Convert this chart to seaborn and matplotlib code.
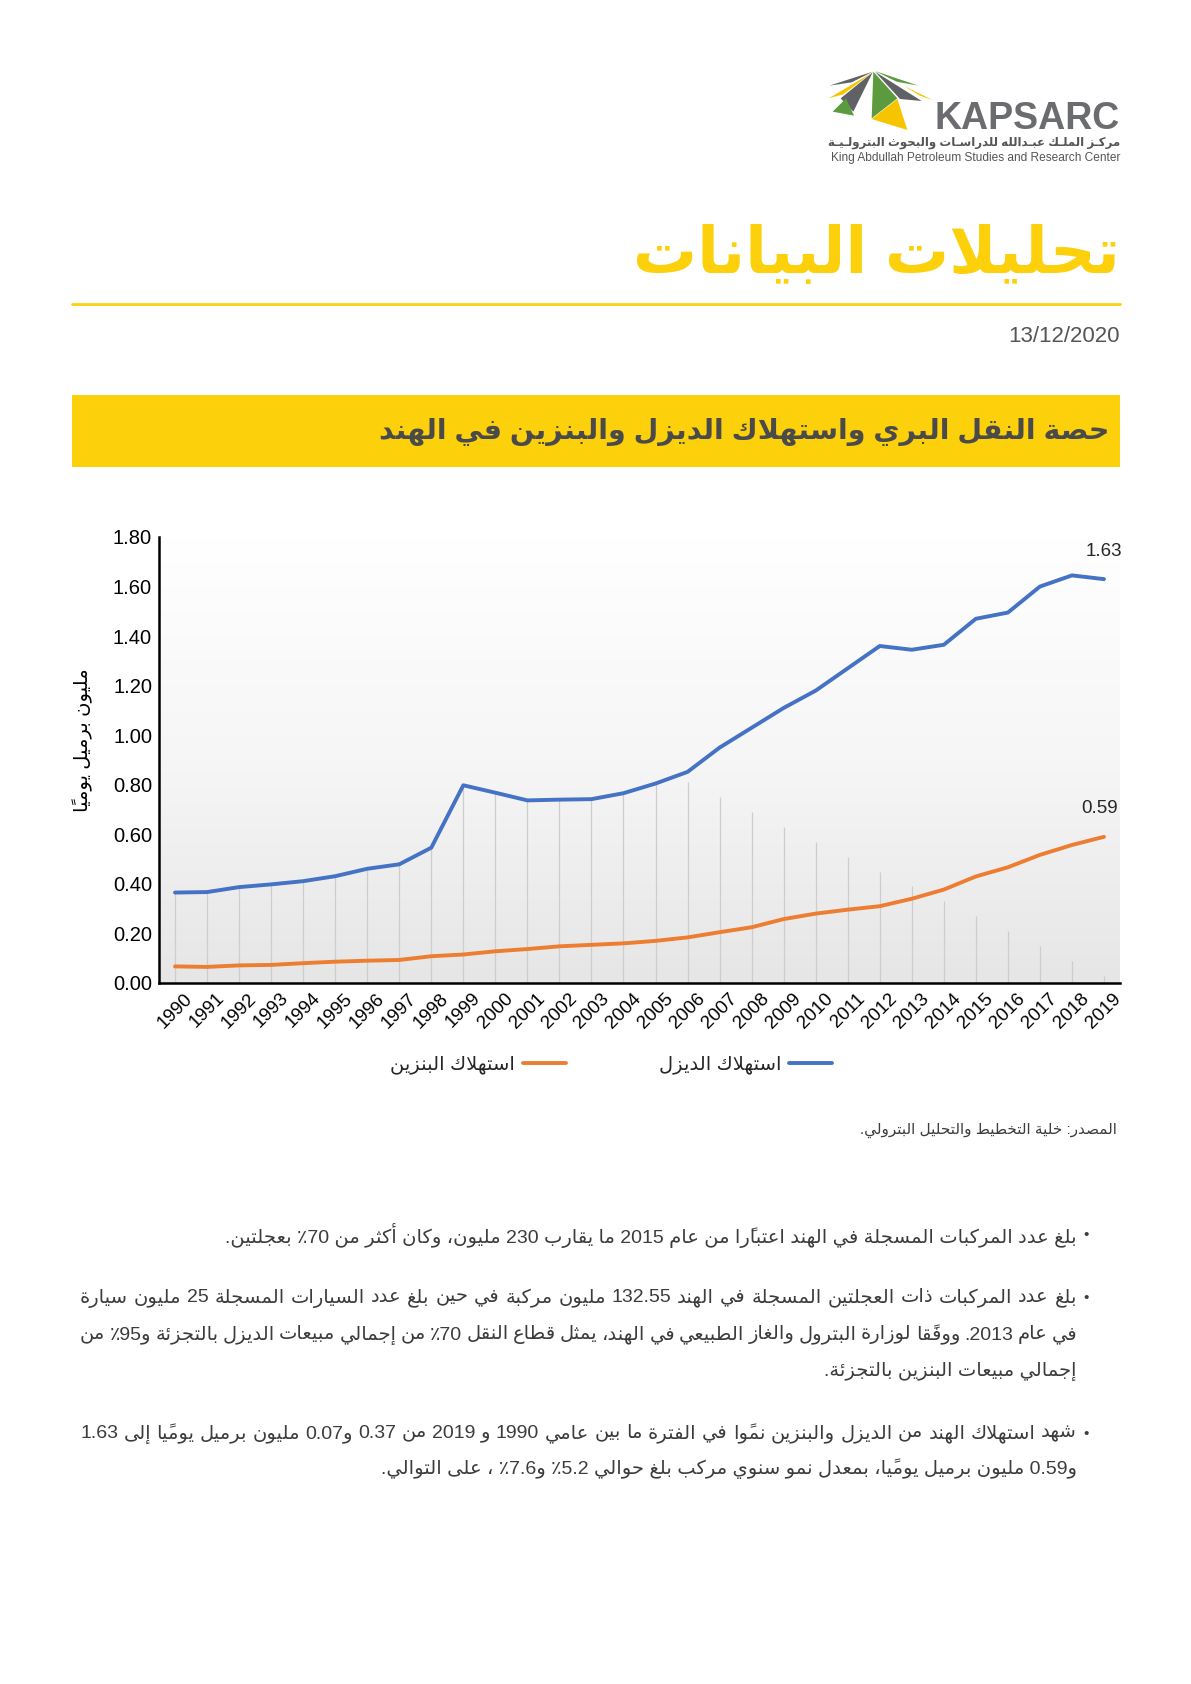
import re
import numpy as np
import pandas as pd
import seaborn as sns
import matplotlib.pyplot as plt
from matplotlib.patches import Rectangle, Polygon
from matplotlib.colors import LinearSegmentedColormap

# ---- datos
years = list(range(1990, 2020))
diesel = [0.365, 0.367, 0.387, 0.398, 0.411, 0.431, 0.461, 0.479, 0.546, 0.798,
          0.768, 0.737, 0.740, 0.742, 0.766, 0.805, 0.852, 0.950, 1.030, 1.110,
          1.180, 1.270, 1.360, 1.345, 1.365, 1.470, 1.495, 1.600, 1.645, 1.630]
gasoline = [0.067, 0.065, 0.071, 0.073, 0.080, 0.086, 0.090, 0.093, 0.108, 0.115,
            0.128, 0.137, 0.148, 0.154, 0.160, 0.170, 0.184, 0.205, 0.225, 0.258,
            0.280, 0.296, 0.310, 0.340, 0.377, 0.430, 0.467, 0.517, 0.557, 0.590]
# lineas verticales grises (serie oculta)
drop_top = [0.365, 0.367, 0.387, 0.398, 0.411, 0.431, 0.461, 0.479, 0.546, 0.798,
            0.768, 0.737, 0.740, 0.742, 0.766, 0.805, 0.81, 0.75, 0.69, 0.63,
            0.57, 0.51, 0.45, 0.39, 0.33, 0.27, 0.21, 0.15, 0.09, 0.03]
series_names = ['استهلاك الديزل', 'استهلاك البنزين']
series_colors = ['#4472C4', '#ED7D31']
y_ticks = [0.0, 0.2, 0.4, 0.6, 0.8, 1.0, 1.2, 1.4, 1.6, 1.8]
y_label = 'مليون برميل يومياً'

page_title = 'تحليلات البيانات'
page_date = '13/12/2020'
chart_title = 'حصة النقل البري واستهلاك الديزل والبنزين في الهند'
source_txt = 'المصدر: خلية التخطيط والتحليل البترولي.'
bullets = [
    ['بلغ عدد المركبات المسجلة في الهند اعتبارًا من عام 2015 ما يقارب 230 مليون، وكان أكثر من 70٪ بعجلتين.'],
    ['بلغ عدد المركبات ذات العجلتين المسجلة في الهند 132.55 مليون مركبة في حين بلغ عدد السيارات المسجلة 25 مليون سيارة',
     'في عام 2013. ووفقًا لوزارة البترول والغاز الطبيعي في الهند، يمثل قطاع النقل 70٪ من إجمالي مبيعات الديزل بالتجزئة و95٪ من',
     'إجمالي مبيعات البنزين بالتجزئة.'],
    ['شهد استهلاك الهند من الديزل والبنزين نموًا في الفترة ما بين عامي 1990 و 2019 من 0.37 و0.07 مليون برميل يوميًا إلى 1.63',
     'و0.59 مليون برميل يوميًا، بمعدل نمو سنوي مركب بلغ حوالي 5.2٪ و7.6٪ ، على التوالي.'],
]

# ---- arabe: formas de presentacion + orden visual (matplotlib no hace shaping)
AR_LETTERS = 'ءآأؤإئابةتثجحخدذرزسشصضطظعغفقكلمنهوىي'
NFORMS = [1, 2, 2, 2, 2, 4, 2, 4, 2, 4, 4, 4, 4, 4, 2, 2, 2, 2, 4, 4, 4, 4, 4, 4,
          4, 4, 4, 4, 4, 4, 4, 4, 4, 2, 2, 4]
FORMS = {}
cp = 0xFE80
for ch, n in zip(AR_LETTERS, NFORMS):
    FORMS[ch] = [chr(cp + i) for i in range(n)]
    cp += n
LAM_ALEF = {'آ': 0xFEF5, 'أ': 0xFEF7, 'إ': 0xFEF9, 'ا': 0xFEFB}
HARAKAT = set(chr(c) for c in range(0x064B, 0x0653))
TATWEEL = 'ـ'


def shape(s):
    res, prev, i, n = [], False, 0, len(s)
    while i < n:
        c = s[i]
        if c in HARAKAT:
            res.append(c); i += 1; continue
        if c == TATWEEL:
            res.append(c); prev = True; i += 1; continue
        if c not in FORMS:
            res.append(c); prev = False; i += 1; continue
        j = i + 1
        while j < n and s[j] in HARAKAT:
            j += 1
        nxt = s[j] if j < n else ''
        if c == 'ل' and nxt in LAM_ALEF:
            res.append(chr(LAM_ALEF[nxt] + (1 if prev else 0)))
            res.extend(s[i + 1:j])
            prev = False
            i = j + 1
            continue
        f = FORMS[c]
        fwd = len(f) == 4 and ((nxt in FORMS and len(FORMS[nxt]) > 1) or nxt == TATWEEL)
        if len(f) == 1:
            g = f[0]
        elif prev and fwd:
            g = f[3]
        elif prev:
            g = f[1]
        elif fwd:
            g = f[2]
        else:
            g = f[0]
        res.append(g)
        prev = len(f) == 4
        i += 1
    return ''.join(res)


def ar(s):
    s = shape(s)
    toks = re.findall(r'[0-9A-Za-z]+(?:[.,/:][0-9A-Za-z]+)*|.[\u064B-\u0652]*', s)
    return ''.join(reversed(toks))


sns.set_theme(style='white')
plt.rcParams['font.family'] = ['Liberation Sans', 'DejaVu Sans']

W, H = 1191, 1684
fig = plt.figure(figsize=(W / 100, H / 100), dpi=100)
fig.patch.set_facecolor('white')

def fx(x): return x / W
def fy(y): return 1 - y / H

YEL = '#FCD00B'
TXT = '#3c3c3c'

# ---- logo
lax = fig.add_axes([fx(820), fy(140), 130 / W, 75 / H])
lax.set_xlim(0, 390); lax.set_ylim(225, 0); lax.axis('off')
GR, YL, GY = '#5b9b3d', '#f6c500', '#606164'
logo = [
    ([(28, 62), (158, 20), (95, 52)], GY),
    ([(26, 100), (158, 22), (70, 88)], YL),
    ([(62, 100), (158, 22), (100, 140)], GY),
    ([(38, 140), (78, 100), (102, 152)], GR),
    ([(160, 20), (232, 100), (155, 160)], GR),
    ([(155, 162), (232, 102), (262, 195)], YL),
    ([(165, 20), (305, 108), (240, 102)], GY),
    ([(165, 18), (295, 62), (230, 50)], GR),
    ([(250, 62), (340, 106), (300, 92)], YL),
]
for pts, col in logo:
    lax.add_patch(Polygon(pts, closed=True, color=col, lw=0))
fig.text(fx(1120), fy(119), 'KAPSARC', ha='right', va='center', size=27,
         weight='bold', color='#6b6c6f')
fig.text(fx(1120), fy(143), ar('مركـز الملـك عبـدالله للدراسـات والبحوث البترولـيـة'),
         ha='right', va='center', size=8.5, weight='bold', color='#555555')
fig.text(fx(1120), fy(158), 'King Abdullah Petroleum Studies and Research Center',
         ha='right', va='center', size=8.6, color='#555555')

# ---- encabezado
fig.text(fx(1120), fy(256), ar(page_title), ha='right', va='center', size=46,
         weight='bold', color=YEL)
fig.add_artist(plt.Line2D([fx(72), fx(1120)], [fy(304), fy(304)], color=YEL, lw=2))
fig.text(fx(1120), fy(336), page_date, ha='right', va='center', size=16, color='#555555')
fig.add_artist(Rectangle((fx(72), fy(467)), fx(1120) - fx(72), fy(395) - fy(467),
                         transform=fig.transFigure, color=YEL, lw=0))
fig.text(fx(1109), fy(432), ar(chart_title), ha='right', va='center', size=20.5,
         weight='bold', color='#4a4a4a')

# ---- grafico
ax = fig.add_axes([fx(159), fy(983), (1120 - 159) / W, (983 - 537) / H])
bg = LinearSegmentedColormap.from_list('bg', ['#e6e6e6', '#f6f6f6', '#ffffff'])
ax.imshow(np.linspace(0, 1, 256).reshape(-1, 1), cmap=bg, origin='lower', aspect='auto',
          extent=(0, 1, 0, 1), transform=ax.transAxes, zorder=0)
ax.vlines(years, 0, drop_top, color='#cdcdcd', lw=0.9, zorder=1)

df = pd.DataFrame({
    'year': years * 2,
    'value': diesel + gasoline,
    'series': [ar(series_names[0])] * len(years) + [ar(series_names[1])] * len(years),
})
pal = {ar(series_names[0]): series_colors[0], ar(series_names[1]): series_colors[1]}
sns.lineplot(data=df, x='year', y='value', hue='series', palette=pal,
             hue_order=[ar(series_names[1]), ar(series_names[0])],
             linewidth=2.8, ax=ax, zorder=3)

ax.set_xlim(years[0] - 0.5, years[-1] + 0.5)
ax.set_ylim(0, 1.8)
ax.set_yticks(y_ticks)
ax.set_yticklabels([f'{v:.2f}' for v in y_ticks], size=14.5, color='black')
ax.set_xticks(years)
ax.set_xticklabels([str(y) for y in years], rotation=45, ha='center', size=13.5, color='black')
ax.tick_params(axis='both', length=0, pad=5)
ax.set_xlabel('')
ax.set_ylabel(ar(y_label), size=14, color='black')
ax.yaxis.set_label_coords((93 - 159) / 961, 0.545)
for s in ['top', 'right']:
    ax.spines[s].set_visible(False)
for s in ['left', 'bottom']:
    ax.spines[s].set_color('black')
    ax.spines[s].set_linewidth(1.8)
ax.grid(False)

ax.annotate(f'{diesel[-1]:.2f}', (years[-1], diesel[-1]), xytext=(0, 14),
            textcoords='offset points', ha='center', va='bottom', size=13.5)
ax.annotate(f'{gasoline[-1]:.2f}', (years[-1], gasoline[-1]), xytext=(-3, 14),
            textcoords='offset points', ha='center', va='bottom', size=13.5)

sns.move_legend(ax, 'center', bbox_to_anchor=(0.513, 0.3676),
                bbox_transform=fig.transFigure, ncol=2, frameon=False, title=None,
                markerfirst=False, fontsize=14, handlelength=2.2, handletextpad=0.4,
                columnspacing=4.8)

# ---- fuente y viñetas
fig.text(fx(1117), fy(1130), ar(source_txt), ha='right', va='center', size=11, color=TXT)

rend = fig.canvas.get_renderer()


def put_line(txt, y, size=14, justify=False, x0=80, x1=1077):
    if not justify:
        fig.text(fx(x1), fy(y), ar(txt), ha='right', va='center', size=size, color=TXT)
        return
    words = txt.split(' ')
    ts = [fig.text(0, fy(y), ar(w), size=size, color=TXT, va='center') for w in words]
    ws = [t.get_window_extent(rend).width for t in ts]
    gap = ((x1 - x0) - sum(ws)) / (len(words) - 1)
    x = x1
    for t, w in zip(ts, ws):
        x -= w
        t.set_x(fx(x))
        x -= gap


line_y = [[1235], [1298, 1335, 1371], [1434, 1469]]
for para, ys in zip(bullets, line_y):
    fig.text(fx(1086), fy(ys[0]), '•', ha='center', va='center', size=11, color=TXT)
    for k, (txt, y) in enumerate(zip(para, ys)):
        put_line(txt, y, justify=(k < len(para) - 1))

fig.savefig('out.png', dpi=100)
